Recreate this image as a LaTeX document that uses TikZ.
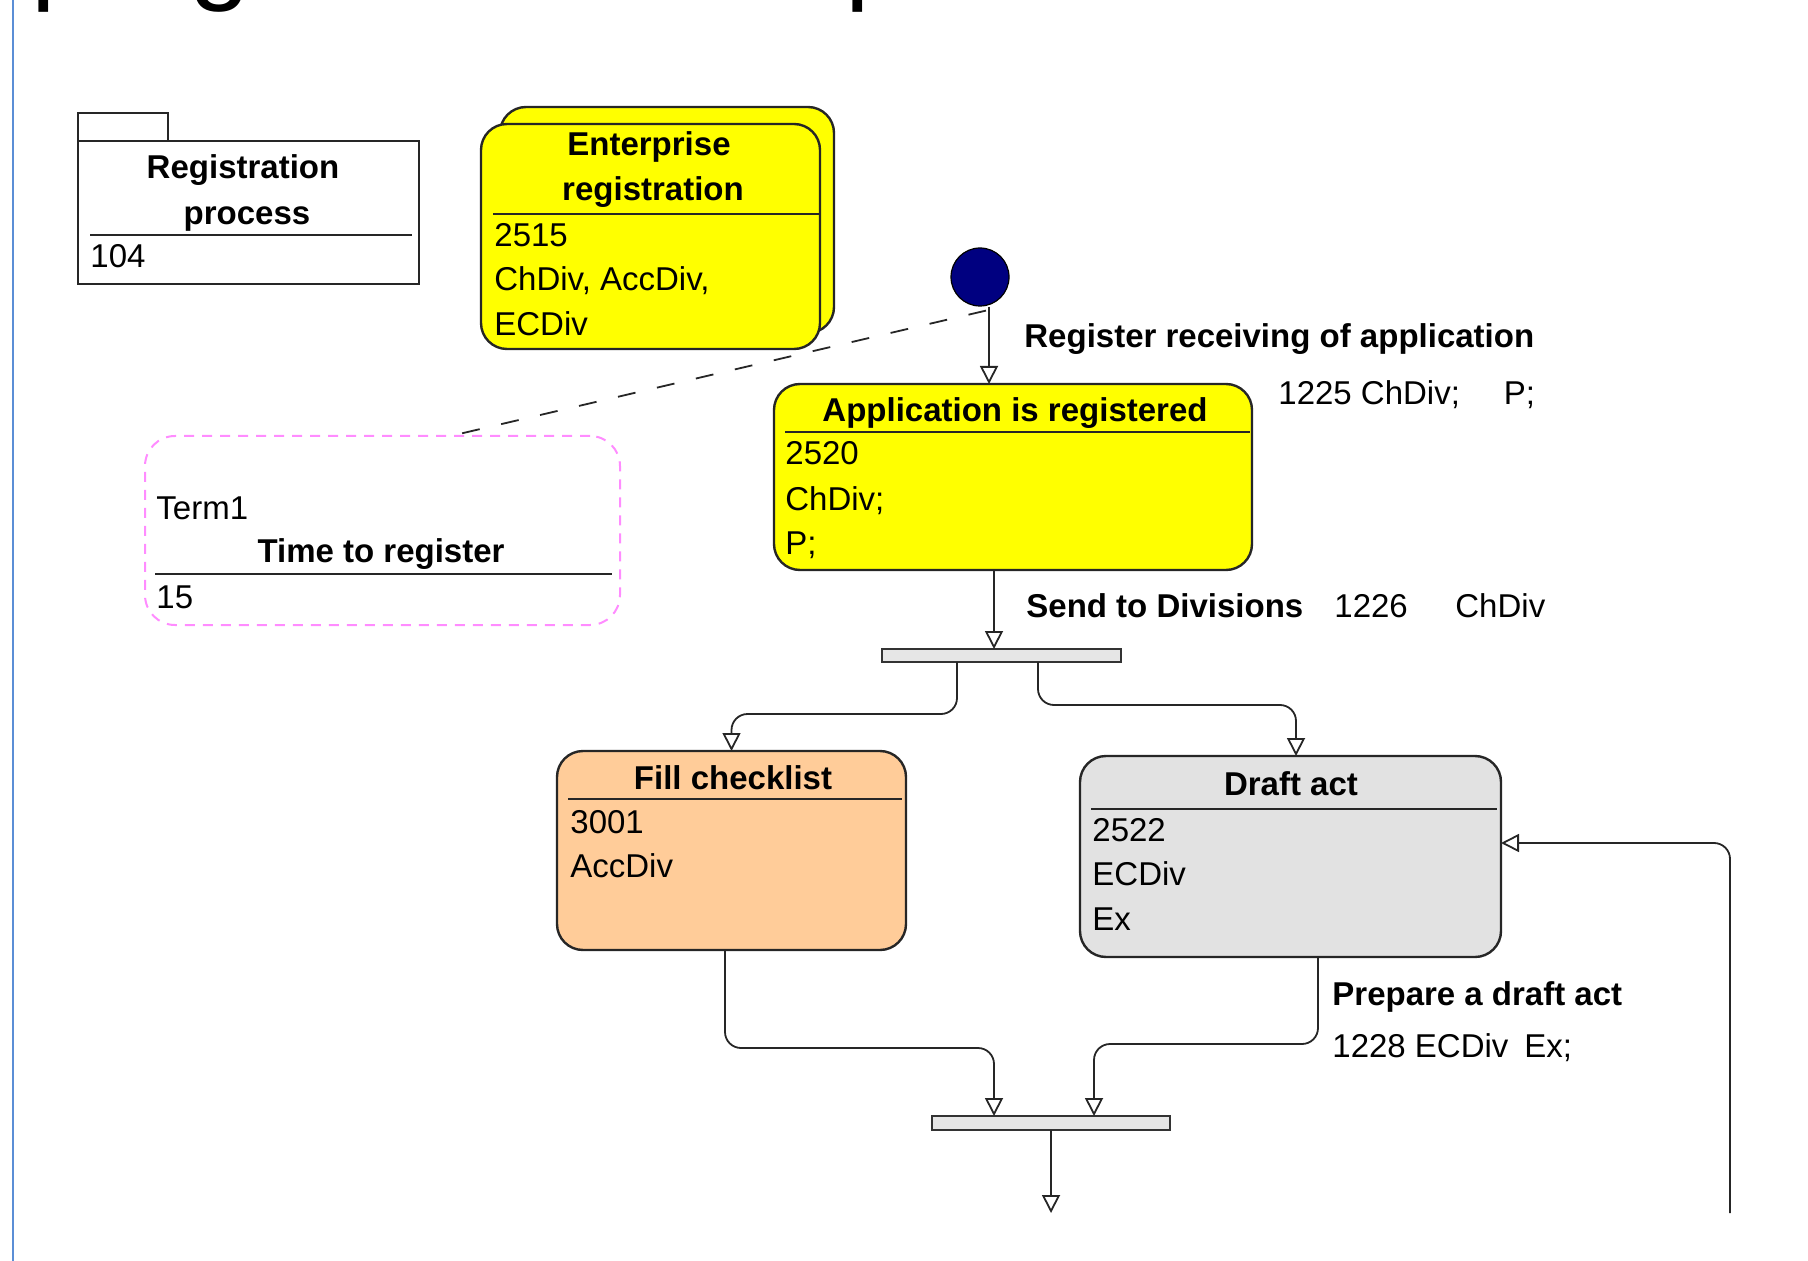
\documentclass[tikz,border=0pt]{standalone}
\usepackage{fontspec}
\setmainfont{Liberation Sans}
\usetikzlibrary{arrows.meta}
\definecolor{stateyellow}{HTML}{FFFF00}
\definecolor{checkorange}{HTML}{FFCC99}
\definecolor{draftgray}{HTML}{E2E2E2}
\definecolor{startnavy}{HTML}{000080}
\definecolor{notepink}{HTML}{FF8CFF}
\definecolor{barfill}{HTML}{E6E6E6}
\definecolor{edgeblue}{HTML}{5B8ED6}

\tikzset{
  txt/.style={inner sep=0pt, text height=12pt, text depth=0pt, font=\fontsize{16.5}{20}\selectfont},
  hdr/.style={txt, font=\fontsize{16.5}{20}\selectfont\bfseries},
  body/.style={txt, anchor=west},
  lbl/.style={hdr, anchor=west},
  actbox/.style={draw=black!85, line width=1.2pt, rounded corners=13pt, inner sep=0pt, outer sep=0pt},
  pkgbox/.style={draw=black!85, line width=1.2pt, inner sep=0pt, outer sep=0pt},
  notebox/.style={draw=notepink, line width=1pt, dash pattern=on 5pt off 4pt, rounded corners=15pt, inner sep=0pt, outer sep=0pt},
  bar/.style={draw=black!80, line width=1.2pt, fill=barfill, inner sep=0pt, outer sep=0pt},
  sep/.style={black!85, line width=1.2pt},
  flow/.style={-{Triangle[open, length=9pt, width=9pt]}, black!85, line width=0.9pt, rounded corners=8pt},
  notelink/.style={black!85, line width=0.9pt, dash pattern=on 9pt off 11pt},
}

\begin{document}
\begin{tikzpicture}[x=0.5pt, y=-0.5pt]
  \useasboundingbox (0,0) rectangle (1808,1261);
  \clip (0,0) rectangle (1808,1261);

  % cut-off slide title and slide edge
  \node[anchor=base west, inner sep=0pt, font=\fontsize{55}{60}\selectfont] (title-p1) at (31,-10) {p};
  \node[anchor=base west, inner sep=0pt, font=\fontsize{55}{60}\selectfont] (title-g) at (189,-10) {g};
  \node[anchor=base west, inner sep=0pt, font=\fontsize{55}{60}\selectfont] (title-p2) at (845,-10) {p};
  \draw[edgeblue, line width=1pt] (12.5,0) -- (12.5,1261);

  % package
  \draw[pkgbox] (78,141) -- (78,113) -- (168,113) -- (168,141);
  \node[pkgbox, minimum width=170.5pt, minimum height=71.5pt] (pkg) at (248.5,212.5) {};
  \node[hdr] (pkg-name1) at (243,167) {Registration};
  \node[hdr] (pkg-name2) at (247,213) {process};
  \draw[sep] (90,235) -- (412,235);
  \node[body] (pkg-id) at (90,256) {104};

  % sub-process (stacked)
  \node[actbox, fill=stateyellow, minimum width=167pt, minimum height=113pt] (ent-back) at (667,220) {};
  \node[actbox, fill=stateyellow, minimum width=169.5pt, minimum height=112.5pt] (ent) at (650.5,236.5) {};
  \node[hdr] (ent-name1) at (649,144) {Enterprise};
  \node[hdr] (ent-name2) at (653,189) {registration};
  \draw[sep] (493,214) -- (819,214);
  \node[body] (ent-id) at (494,235) {2515};
  \node[body] (ent-who1) at (494,279) {ChDiv, AccDiv,};
  \node[body] (ent-who2) at (494,324) {ECDiv};

  % start and first state
  \node[circle, draw=black, line width=0.6pt, fill=startnavy, minimum size=29pt, inner sep=0pt] (start) at (980,277) {};
  \node[actbox, fill=stateyellow, minimum width=239pt, minimum height=93pt] (app) at (1013,477) {};
  \node[hdr] (app-name) at (1015,410) {Application is registered};
  \draw[sep] (785,432) -- (1250,432);
  \node[body] (app-id) at (785,453) {2520};
  \node[body] (app-who) at (785,498) {ChDiv;};
  \node[body] (app-role) at (785,542) {P;};

  % term note
  \node[notebox, minimum width=237.5pt, minimum height=94.5pt] (note) at (382.5,530.5) {};
  \node[body] (note-term) at (156,507) {Term1};
  \node[hdr] (note-name) at (381,550) {Time to register};
  \draw[sep] (155,574) -- (612,574);
  \node[body] (note-value) at (156,596) {15};

  % fork, parallel states, join
  \node[bar, minimum width=119.5pt, minimum height=6.5pt] (fork) at (1001.5,655.5) {};
  \node[actbox, fill=checkorange, minimum width=174.5pt, minimum height=99.5pt] (fill) at (731.5,850.5) {};
  \node[hdr] (fill-name) at (733,777) {Fill checklist};
  \draw[sep] (568,799) -- (902,799);
  \node[body] (fill-id) at (570,821) {3001};
  \node[body] (fill-who) at (570,865) {AccDiv};
  \node[actbox, fill=draftgray, minimum width=210.5pt, minimum height=100.5pt] (draft) at (1290.5,856.5) {};
  \node[hdr] (draft-name) at (1291,783) {Draft act};
  \draw[sep] (1091,809) -- (1497,809);
  \node[body] (draft-id) at (1092,829) {2522};
  \node[body] (draft-who) at (1092,873) {ECDiv};
  \node[body] (draft-role) at (1092,918) {Ex};
  \node[bar, minimum width=119pt, minimum height=7pt] (join) at (1051,1123) {};

  % transition labels
  \node[lbl] (lbl-register) at (1024,336) {Register receiving of application};
  \node[body] (lbl-register-data) at (1278,393) {1225 ChDiv;\hspace{22pt}P;};
  \node[lbl] (lbl-send) at (1026,605) {Send to Divisions};
  \node[body] (lbl-send-id) at (1334,605) {1226};
  \node[body] (lbl-send-who) at (1455,605) {ChDiv};
  \node[lbl] (lbl-prepare) at (1332,993) {Prepare a draft act};
  \node[body] (lbl-prepare-data) at (1332,1045) {1228 ECDiv\hspace{8pt}Ex;};

  % helper points
  \coordinate (start-out) at ([xshift=4.5pt]start.south);
  \coordinate (app-out) at ([xshift=-9.5pt]app.south);
  \coordinate (fork-l) at ([xshift=-22.25pt]fork.south);
  \coordinate (fork-r) at ([xshift=18.25pt]fork.south);
  \coordinate (fill-out) at ([xshift=-3.25pt]fill.south);
  \coordinate (draft-top) at ([xshift=2.75pt]draft.north);
  \coordinate (draft-out) at ([xshift=13.75pt]draft.south);
  \coordinate (draft-in) at ([yshift=6.75pt]draft.east);
  \coordinate (join-l) at ([xshift=-28.5pt]join.north);
  \coordinate (join-r) at ([xshift=21.5pt]join.north);
  \coordinate (lvl-l) at (0,714);
  \coordinate (lvl-r) at (0,705);
  \coordinate (lvl-fill) at (0,1048);
  \coordinate (lvl-draft) at (0,1044);
  \coordinate (next) at (join.south |- 0,1213);
  \coordinate (loop-in) at (1730,1213);

  % connectors
  \draw[notelink] ([xshift=3pt,yshift=-2pt]start.south) -- ([xshift=34pt]note.north);
  \draw[flow] (start-out) -- (start-out |- app.north);
  \draw[flow] (app-out) -- (app-out |- fork.north);
  \draw[flow] (fork-l) |- (fill.north |- lvl-l) -- (fill.north);
  \draw[flow] (fork-r) |- (draft-top |- lvl-r) -- (draft-top);
  \draw[flow] (fill-out) |- (join-l |- lvl-fill) -- (join-l);
  \draw[flow] (draft-out) |- (join-r |- lvl-draft) -- (join-r);
  \draw[flow] (join.south) -- (next);
  \draw[flow] (loop-in) |- (draft-in);
\end{tikzpicture}
\end{document}
